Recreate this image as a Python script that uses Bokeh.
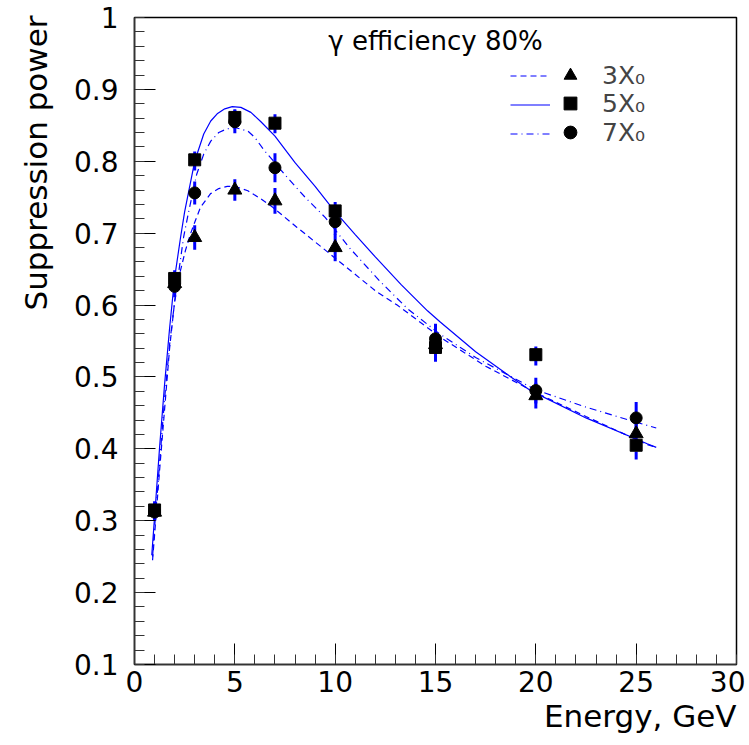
from bokeh.plotting import figure
from bokeh.models import (Range1d, FixedTicker, Label, Legend, LegendItem, ColumnDataSource, Title)
from bokeh.embed import file_html
from bokeh.resources import INLINE

# ---------------- data ----------------
energy = [1, 2, 3, 5, 7, 10, 15, 20, 25]
sp_3x0 = [0.312, 0.630, 0.694, 0.760, 0.745, 0.680, 0.545, 0.474, 0.421]
sp_5x0 = [0.315, 0.637, 0.802, 0.861, 0.853, 0.731, 0.541, 0.531, 0.405]
sp_7x0 = [0.312, 0.626, 0.756, 0.855, 0.791, 0.716, 0.553, 0.481, 0.443]
err_3x0 = [0.010, 0.015, 0.017, 0.015, 0.018, 0.019, 0.020, 0.018, 0.020]
err_5x0 = [0.012, 0.015, 0.015, 0.015, 0.014, 0.014, 0.020, 0.015, 0.020]
err_7x0 = [0.012, 0.015, 0.016, 0.016, 0.020, 0.018, 0.021, 0.018, 0.022]

# fitted curves
fit_e_3x0 = [0.9, 1.0, 1.25, 1.5, 1.75, 2.0, 2.29, 2.54, 2.79, 3.04, 3.29, 3.79, 4.2, 4.62, 5.0, 5.65, 6.28, 6.89, 8.1, 9.35, 10.76, 12.09, 13.09, 15.25, 17.5, 20.0, 22.5, 25.55, 26.0]
fit_y_3x0 = [0.245, 0.28, 0.37, 0.455, 0.54, 0.605, 0.648, 0.676, 0.699, 0.718, 0.736, 0.755, 0.762, 0.765, 0.765, 0.759, 0.748, 0.736, 0.708, 0.680, 0.648, 0.618, 0.600, 0.555, 0.515, 0.478, 0.445, 0.406, 0.402]
fit_e_5x0 = [0.86, 1.0, 1.25, 1.5, 1.75, 2.0, 2.3, 2.5, 3.0, 3.45, 3.8, 4.12, 4.5, 4.87, 5.3, 5.8, 6.3, 7.0, 8.0, 9.0, 9.93, 11.0, 12.0, 13.3, 14.6, 15.25, 17.0, 18.5, 19.73, 22.5, 25.55, 26.0]
fit_y_5x0 = [0.252, 0.305, 0.402, 0.49, 0.568, 0.638, 0.695, 0.730, 0.800, 0.838, 0.856, 0.866, 0.873, 0.876, 0.875, 0.868, 0.855, 0.835, 0.798, 0.765, 0.732, 0.698, 0.667, 0.628, 0.592, 0.576, 0.535, 0.505, 0.481, 0.443, 0.407, 0.402]
fit_e_7x0 = [0.9, 1.0, 1.25, 1.5, 1.75, 2.0, 2.45, 2.7, 3.1, 3.45, 3.8, 4.2, 4.6, 5.0, 5.65, 6.0, 6.44, 7.0, 7.5, 8.5, 9.5, 10.7, 12.2, 13.6, 15.2, 17.0, 20.0, 22.5, 25.0, 26.0]
fit_y_7x0 = [0.25, 0.29, 0.38, 0.47, 0.545, 0.605, 0.695, 0.73, 0.782, 0.81, 0.828, 0.840, 0.845, 0.847, 0.842, 0.833, 0.816, 0.798, 0.781, 0.750, 0.722, 0.680, 0.634, 0.595, 0.560, 0.527, 0.482, 0.458, 0.437, 0.429]

series_labels = ["3X\u2080", "5X\u2080", "7X\u2080"]
x_ticks = [0, 5, 10, 15, 20, 25, 30]
y_ticks = [0.1, 0.2, 0.3, 0.4, 0.5, 0.6, 0.7, 0.8, 0.9, 1.0]
y_tick_labels = ["0.1", "0.2", "0.3", "0.4", "0.5", "0.6", "0.7", "0.8", "0.9", "1"]
title_text = "\u03b3 efficiency 80%"
x_title = "Energy, GeV"
y_title = "Suppression power"

FONT = "DejaVu Sans"
BLUE = "#0000ff"
NAN = float("nan")

p = figure(width=745, height=740, output_backend="svg", toolbar_location=None,
           x_range=Range1d(0, 30), y_range=Range1d(0.1, 1.0))
p.min_border_left = 134
p.min_border_right = 9
p.min_border_top = 17
p.min_border_bottom = 76
p.xgrid.visible = False
p.ygrid.visible = False
p.outline_line_color = "black"
p.outline_line_width = 1.5
p.background_fill_color = "white"
p.border_fill_color = "white"

# axes
p.xaxis.ticker = FixedTicker(ticks=x_ticks, minor_ticks=list(range(0, 31)))
p.yaxis.ticker = FixedTicker(ticks=y_ticks, minor_ticks=[round(0.1 + 0.02 * i, 2) for i in range(46)])
p.yaxis.major_label_overrides = {t: l for t, l in zip(y_ticks, y_tick_labels)}
for ax in (p.xaxis[0], p.yaxis[0]):
    ax.major_tick_in = 21
    ax.major_tick_out = 0
    ax.minor_tick_in = 10
    ax.minor_tick_out = 0
    ax.major_tick_line_color = "black"
    ax.minor_tick_line_color = "#333333"
    ax.axis_line_color = "#333333"
    ax.axis_line_width = 1.5
    ax.major_label_text_font = FONT
    ax.major_label_text_font_size = "28px"
    ax.major_label_text_color = "black"
p.yaxis.major_label_standoff = 16
p.xaxis.major_label_standoff = 6

# axis titles as side-panel titles
p.add_layout(Title(text=y_title, align="right", vertical_align="top", text_font=FONT,
                   text_font_size="31px", text_font_style="normal", text_color="black",
                   standoff=30, offset=-2), "left")
p.add_layout(Title(text=x_title, align="right", text_font=FONT, text_font_size="31px",
                   text_font_style="normal", text_color="black", standoff=2), "below")

# curves
l3 = p.line(fit_e_3x0, fit_y_3x0, line_color=BLUE, line_width=1.2, line_dash="6 4")
l5 = p.line(fit_e_5x0, fit_y_5x0, line_color=BLUE, line_width=1.2)
l7 = p.line(fit_e_7x0, fit_y_7x0, line_color=BLUE, line_width=1.2, line_dash="7 4 1 4")

# error bars
for ys, es, dash in ((sp_3x0, err_3x0, "solid"), (sp_5x0, err_5x0, "8 3"), (sp_7x0, err_7x0, "solid")):
    src = ColumnDataSource(dict(x=energy, lo=[y - e for y, e in zip(ys, es)], hi=[y + e for y, e in zip(ys, es)]))
    p.segment(x0="x", y0="lo", x1="x", y1="hi", source=src, line_color=BLUE, line_width=3, line_dash=dash)

# markers
p.scatter(energy, sp_3x0, marker="triangle", size=14, color="black")
p.scatter(energy, sp_5x0, marker="square", size=12, color="black")
p.scatter(energy, sp_7x0, marker="circle", size=12, color="black")

# legend-only marker renderers (NaN data: not drawn in the plot)
m3 = p.scatter(x=[NAN], y=[NAN], marker="triangle", size=14, color="black")
m5 = p.scatter(x=[NAN], y=[NAN], marker="square", size=12, color="black")
m7 = p.scatter(x=[NAN], y=[NAN], marker="circle", size=12, color="black")

legA = Legend(items=[LegendItem(label=" ", renderers=[l3]),
                     LegendItem(label=" ", renderers=[l5]),
                     LegendItem(label=" ", renderers=[l7])],
              location=(376, 516), glyph_width=40, glyph_height=29, label_height=29,
              label_text_font_size="10px", spacing=0, padding=0, margin=0,
              border_line_alpha=0, background_fill_alpha=0, label_standoff=0)
p.add_layout(legA)

# one legend per row so that the symbol box (and so the symbol) can be larger
G = 32
row_centres = [75, 103, 132]   # px from top of the picture
for lab, rend, rc in zip(series_labels, (m3, m5, m7), row_centres):
    lg = Legend(items=[LegendItem(label=lab, renderers=[rend])],
                location=(570 - G // 2 - 134, 664 - (rc + G // 2)),
                glyph_width=G, glyph_height=G, label_height=G,
                label_text_font=FONT, label_text_font_size="25px", label_standoff=602 - (570 + G // 2),
                spacing=0, padding=0, margin=0,
                border_line_alpha=0, background_fill_alpha=0)
    p.add_layout(lg)

# in-frame title text
p.add_layout(Label(x=15.0, y=0.968, text=title_text, text_align="center", text_baseline="middle",
                   text_font=FONT, text_font_size="26px", text_color="black"))

open("out.html", "w").write(file_html(p, INLINE))
